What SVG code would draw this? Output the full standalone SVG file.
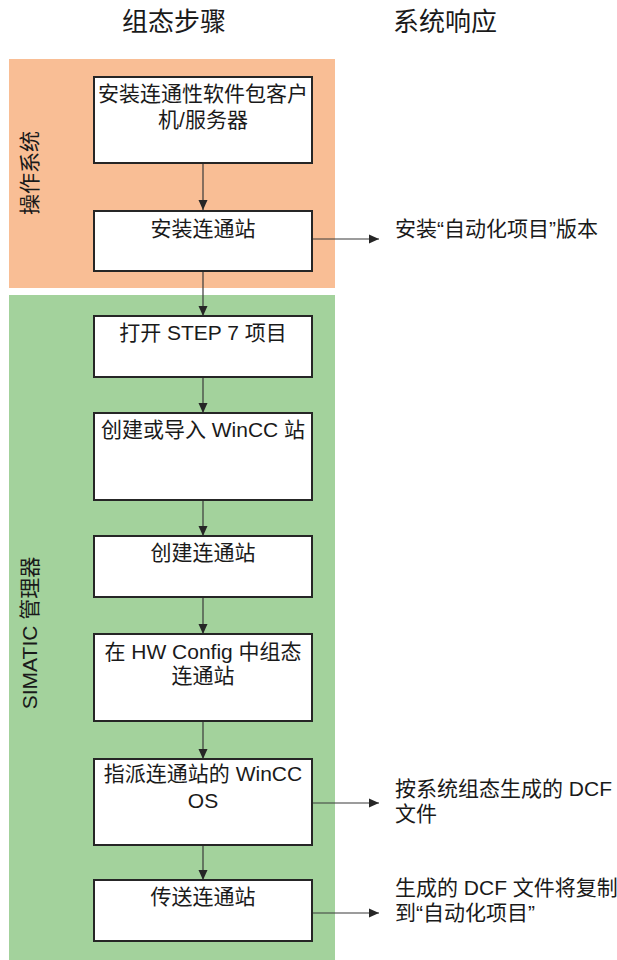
<svg xmlns="http://www.w3.org/2000/svg" width="617" height="960" viewBox="0 0 617 960">
<defs>
<style>
text{font-family:"Liberation Sans","Noto Sans CJK SC",sans-serif;fill:#1a1a1a;}
.t{font-size:21px;text-anchor:middle;}
.r{font-size:21px;}
.h{font-size:26px;text-anchor:middle;}
.box{fill:#fff;stroke:#262626;stroke-width:2;}
.ln{stroke:#3a3a3a;stroke-width:1.2;fill:none;marker-end:url(#ah);}
</style>
<marker id="ah" viewBox="0 0 10 10" refX="10" refY="5" markerWidth="10" markerHeight="10" markerUnits="userSpaceOnUse" orient="auto">
<path d="M0,0.5 L10,5 L0,9.5 z" fill="#262626"/>
</marker>
</defs>
<rect width="617" height="960" fill="#fff"/>
<g id="headers">
<text class="h" x="174" y="31">组态步骤</text>
<text class="h" x="445" y="31">系统响应</text>
</g>
<g id="lane-os">
<rect x="9" y="59" width="326" height="229" fill="#F9BE95"/>
<text class="t" transform="translate(37,173) rotate(-90)">操作系统</text>
</g>
<g id="lane-simatic">
<rect x="9" y="295" width="326" height="665" fill="#A3D29C"/>
<text class="t" transform="translate(37,633) rotate(-90)">SIMATIC 管理器</text>
</g>
<g id="connectors">
<line class="ln" x1="203" y1="164" x2="203" y2="210"/>
<line class="ln" x1="203" y1="272" x2="203" y2="316"/>
<line class="ln" x1="203" y1="378" x2="203" y2="413"/>
<line class="ln" x1="203" y1="501" x2="203" y2="536"/>
<line class="ln" x1="203" y1="598" x2="203" y2="634"/>
<line class="ln" x1="203" y1="722" x2="203" y2="759"/>
<line class="ln" x1="203" y1="846" x2="203" y2="880"/>
<line class="ln" x1="313" y1="239" x2="379" y2="239"/>
<line class="ln" x1="313" y1="803" x2="379" y2="803"/>
<line class="ln" x1="313" y1="913" x2="379" y2="913"/>
</g>
<g id="n1"><rect class="box" x="94" y="77" width="218" height="86"/>
<text class="t" x="203" y="101">安装连通性软件包客户</text>
<text class="t" x="203" y="127">机/服务器</text></g>
<g id="n2"><rect class="box" x="94" y="211" width="218" height="60"/>
<text class="t" x="203" y="236">安装连通站</text></g>
<g id="n3"><rect class="box" x="94" y="316" width="218" height="61"/>
<text class="t" x="203" y="340">打开 STEP 7 项目</text></g>
<g id="n4"><rect class="box" x="94" y="413" width="218" height="87"/>
<text class="t" x="203" y="437">创建或导入 WinCC 站</text></g>
<g id="n5"><rect class="box" x="94" y="536" width="218" height="61"/>
<text class="t" x="203" y="560">创建连通站</text></g>
<g id="n6"><rect class="box" x="94" y="634" width="218" height="87"/>
<text class="t" x="203" y="659">在 HW Config 中组态</text>
<text class="t" x="203" y="683">连通站</text></g>
<g id="n7"><rect class="box" x="94" y="759" width="218" height="86"/>
<text class="t" x="203" y="781">指派连通站的 WinCC</text>
<text class="t" x="203" y="808">OS</text></g>
<g id="n8"><rect class="box" x="94" y="880" width="218" height="61"/>
<text class="t" x="203" y="904">传送连通站</text></g>
<g id="responses">
<text class="r" x="395" y="236">安装“自动化项目”版本</text>
<text class="r" x="395" y="796">按系统组态生成的 DCF</text>
<text class="r" x="395" y="821">文件</text>
<text class="r" x="395" y="895">生成的 DCF 文件将复制</text>
<text class="r" x="395" y="920">到“自动化项目”</text>
</g>
</svg>
